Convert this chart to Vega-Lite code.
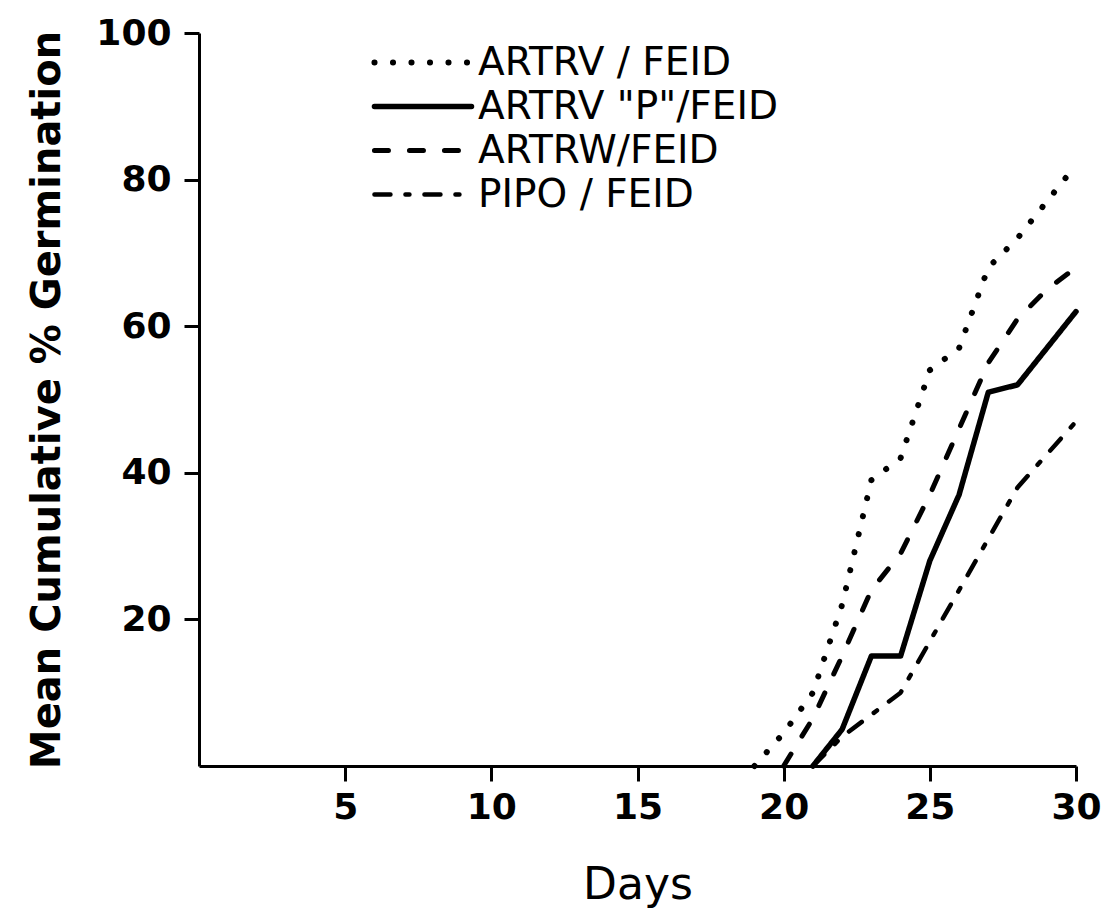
{
  "$schema": "https://vega.github.io/schema/vega-lite/v6.json",
  "width": 877,
  "height": 733,
  "autosize": "none",
  "padding": {"left": 199, "top": 33, "right": 36, "bottom": 154},
  "background": "white",
  "config": {"view": {"stroke": null}, "font": "DejaVu Sans"},
  "data": {
    "values": [
      {"series": "ARTRV / FEID", "day": 19, "pct": 0},
      {"series": "ARTRV / FEID", "day": 20, "pct": 4.5},
      {"series": "ARTRV / FEID", "day": 21, "pct": 10},
      {"series": "ARTRV / FEID", "day": 22, "pct": 22},
      {"series": "ARTRV / FEID", "day": 23, "pct": 39},
      {"series": "ARTRV / FEID", "day": 24, "pct": 42},
      {"series": "ARTRV / FEID", "day": 25, "pct": 54},
      {"series": "ARTRV / FEID", "day": 26, "pct": 57},
      {"series": "ARTRV / FEID", "day": 27, "pct": 68},
      {"series": "ARTRV / FEID", "day": 28, "pct": 72},
      {"series": "ARTRV / FEID", "day": 29, "pct": 77},
      {"series": "ARTRV / FEID", "day": 30, "pct": 82},
      {"series": "ARTRV \"P\"/FEID", "day": 21, "pct": 0},
      {"series": "ARTRV \"P\"/FEID", "day": 22, "pct": 5},
      {"series": "ARTRV \"P\"/FEID", "day": 23, "pct": 15},
      {"series": "ARTRV \"P\"/FEID", "day": 24, "pct": 15},
      {"series": "ARTRV \"P\"/FEID", "day": 25, "pct": 28},
      {"series": "ARTRV \"P\"/FEID", "day": 26, "pct": 37},
      {"series": "ARTRV \"P\"/FEID", "day": 27, "pct": 51},
      {"series": "ARTRV \"P\"/FEID", "day": 28, "pct": 52},
      {"series": "ARTRV \"P\"/FEID", "day": 29, "pct": 57},
      {"series": "ARTRV \"P\"/FEID", "day": 30, "pct": 62},
      {"series": "ARTRW/FEID", "day": 20, "pct": 0},
      {"series": "ARTRW/FEID", "day": 21, "pct": 6.5},
      {"series": "ARTRW/FEID", "day": 22, "pct": 15},
      {"series": "ARTRW/FEID", "day": 23, "pct": 24},
      {"series": "ARTRW/FEID", "day": 24, "pct": 29},
      {"series": "ARTRW/FEID", "day": 25, "pct": 37},
      {"series": "ARTRW/FEID", "day": 26, "pct": 46},
      {"series": "ARTRW/FEID", "day": 27, "pct": 55},
      {"series": "ARTRW/FEID", "day": 28, "pct": 61},
      {"series": "ARTRW/FEID", "day": 29, "pct": 65},
      {"series": "ARTRW/FEID", "day": 30, "pct": 68},
      {"series": "PIPO / FEID", "day": 21, "pct": 0},
      {"series": "PIPO / FEID", "day": 22, "pct": 4},
      {"series": "PIPO / FEID", "day": 23, "pct": 7},
      {"series": "PIPO / FEID", "day": 24, "pct": 10},
      {"series": "PIPO / FEID", "day": 25, "pct": 17},
      {"series": "PIPO / FEID", "day": 26, "pct": 24},
      {"series": "PIPO / FEID", "day": 27, "pct": 31},
      {"series": "PIPO / FEID", "day": 28, "pct": 38},
      {"series": "PIPO / FEID", "day": 29, "pct": 42.5},
      {"series": "PIPO / FEID", "day": 30, "pct": 47}
    ]
  },
  "mark": {"type": "line", "color": "black", "strokeCap": "round", "strokeJoin": "round"},
  "encoding": {
    "x": {
      "field": "day",
      "type": "quantitative",
      "scale": {"domain": [0, 30], "nice": false, "zero": false},
      "axis": {
        "title": "Days",
        "values": [5, 10, 15, 20, 25, 30],
        "grid": false,
        "labelFlush": false,
        "labelOverlap": false,
        "domainColor": "black",
        "domainWidth": 3,
        "tickColor": "black",
        "tickWidth": 3,
        "tickSize": 15,
        "labelFontSize": 36,
        "labelFontWeight": "bold",
        "labelColor": "black",
        "labelPadding": 9,
        "titleFontSize": 44,
        "titleFontWeight": "normal",
        "titleColor": "black",
        "titlePadding": 38
      }
    },
    "y": {
      "field": "pct",
      "type": "quantitative",
      "scale": {"domain": [0, 100], "nice": false},
      "axis": {
        "title": "Mean Cumulative % Germination",
        "values": [20, 40, 60, 80, 100],
        "grid": false,
        "labelFlush": false,
        "labelOverlap": false,
        "domainColor": "black",
        "domainWidth": 3,
        "tickColor": "black",
        "tickWidth": 3,
        "tickSize": 15,
        "labelFontSize": 36,
        "labelFontWeight": "bold",
        "labelColor": "black",
        "labelPadding": 13,
        "titleFontSize": 40,
        "titleFontWeight": "bold",
        "titleColor": "black",
        "titlePadding": 28
      }
    },
    "strokeWidth": {
      "field": "series",
      "type": "nominal",
      "scale": {
        "domain": ["ARTRV / FEID", "ARTRV \"P\"/FEID", "ARTRW/FEID", "PIPO / FEID"],
        "range": [6, 4.5, 5, 5]
      },
      "legend": null
    },
    "strokeDash": {
      "field": "series",
      "type": "nominal",
      "sort": null,
      "scale": {
        "domain": ["ARTRV / FEID", "ARTRV \"P\"/FEID", "ARTRW/FEID", "PIPO / FEID"],
        "range": [[0.1, 18.4], [1, 0], [14, 21], [16, 15, 4, 15]]
      },
      "legend": {
        "title": null,
        "orient": "none",
        "legendX": 235,
        "legendY": 10,
        "padding": 0,
        "rowPadding": 4,
        "labelFontSize": 39,
        "labelColor": "black",
        "labelFont": "DejaVu Sans",
        "labelOffset": 5,
        "labelLimit": 0,
        "symbolType": "M-5.27,0L1.2,0",
        "symbolSize": 900,
        "symbolStrokeColor": "black",
        "symbolStrokeWidth": 5,
        "encoding": {"symbols": {"strokeCap": {"value": "round"}, "fill": {"value": "transparent"}}}
      }
    }
  }
}
